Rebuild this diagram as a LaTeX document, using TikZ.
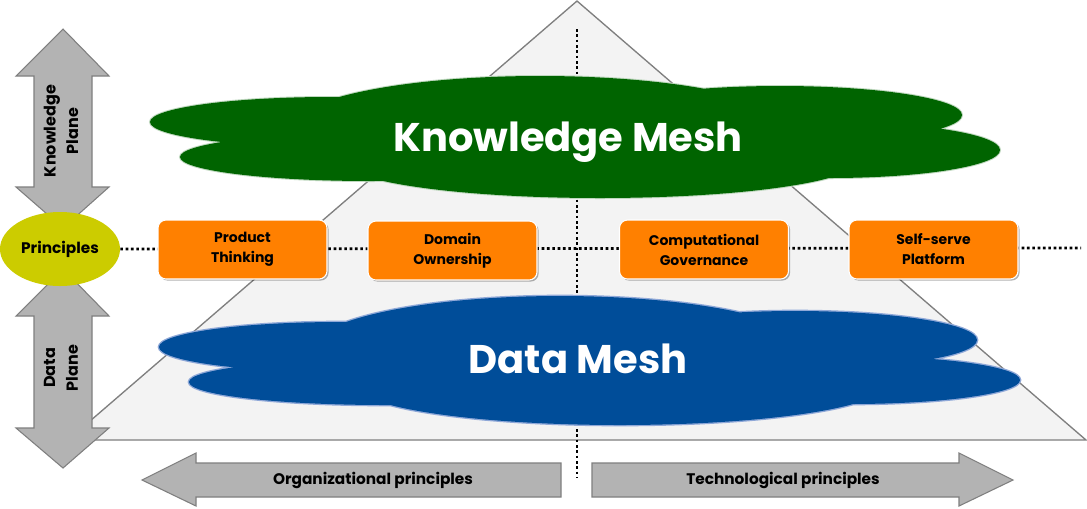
\documentclass[tikz,border=0pt]{standalone}
\usepackage{fontspec}
\setmainfont{Poppins}
\usetikzlibrary{shapes.geometric,shadows}
\definecolor{kgreen}{HTML}{006400}
\definecolor{dblue}{HTML}{004D99}
\definecolor{dblueedge}{HTML}{8FA8D8}
\definecolor{orng}{HTML}{FF8000}
\definecolor{yel}{HTML}{CCCC00}
\definecolor{arrgray}{HTML}{B3B3B3}
\definecolor{edgegray}{HTML}{7F7F7F}
\definecolor{trifill}{HTML}{F3F3F3}
\begin{document}
\begin{tikzpicture}[x=0.75pt,y=-0.75pt,
  tri/.style={fill=trifill,draw=edgegray,line width=1pt},
  dotline/.style={black,line width=2pt,dash pattern=on 2pt off 2pt},
  bigarrow/.style={fill=arrgray,draw=edgegray,line width=0.8pt},
  principle/.style={fill=orng,draw=white,line width=0.8pt,rounded corners=6pt,
    minimum width=126.75pt,minimum height=44.25pt,align=center,inner sep=0pt,
    font=\fontsize{10.5}{15}\selectfont\bfseries,
    drop shadow={shadow xshift=1.2pt,shadow yshift=-1.2pt,opacity=0.3,fill=black}},
  planetext/.style={rotate=90,align=center,font=\fontsize{12}{17}\selectfont\bfseries},
  axistext/.style={font=\fontsize{11.5}{14}\selectfont\bfseries},
  meshtext/.style={text=white,font=\fontsize{30}{34}\selectfont\bfseries,anchor=base},
  kedge/.style={draw=kgreen!25,line width=1.5pt},
  dedge/.style={draw=dblueedge,line width=2pt}
]
\useasboundingbox (0,0) rectangle (1087,508);
\fill[white] (0,0) rectangle (1087,508);

% pyramid
\draw[tri] (577,1) -- (1086,440) -- (68,440) -- cycle;

% vertical dotted axis
\coordinate (vtop) at (577,29);
\coordinate (vbot) at (577,478);
\draw[dotline] (vtop) -- (vbot);

% Knowledge Mesh cloud
\path[kedge] (330,122) ellipse [x radius=180,y radius=25]
  (370,157) ellipse [x radius=190,y radius=24]
  (540,128) ellipse [x radius=250,y radius=52]
  (600,160) ellipse [x radius=260,y radius=38]
  (780,115) ellipse [x radius=182,y radius=29]
  (830,150) ellipse [x radius=170,y radius=28];
\fill[kgreen] (330,122) ellipse [x radius=180,y radius=25]
  (370,157) ellipse [x radius=190,y radius=24]
  (540,128) ellipse [x radius=250,y radius=52]
  (600,160) ellipse [x radius=260,y radius=38]
  (780,115) ellipse [x radius=182,y radius=29]
  (830,150) ellipse [x radius=170,y radius=28];
\node[meshtext] (km) at (568,151) {Knowledge Mesh};

% Data Mesh cloud
\path[dedge] (340,347) ellipse [x radius=181,y radius=25]
  (385,382) ellipse [x radius=196,y radius=23]
  (560,350) ellipse [x radius=250,y radius=54]
  (620,385) ellipse [x radius=265,y radius=40]
  (795,340) ellipse [x radius=182,y radius=29]
  (850,380) ellipse [x radius=170,y radius=24];
\fill[dblue] (340,347) ellipse [x radius=181,y radius=25]
  (385,382) ellipse [x radius=196,y radius=23]
  (560,350) ellipse [x radius=250,y radius=54]
  (620,385) ellipse [x radius=265,y radius=40]
  (795,340) ellipse [x radius=182,y radius=29]
  (850,380) ellipse [x radius=170,y radius=24];
\node[meshtext] (dm) at (578,373) {Data Mesh};

% plane arrows
\draw[bigarrow] (63,29) -- (109,76) -- (92,76) -- (92,187) -- (109,187) -- (63,228)
  -- (16,187) -- (34,187) -- (34,76) -- (16,76) -- cycle;
\node[planetext] (kp) at (61,131) {Knowledge\\Plane};
\draw[bigarrow] (63,269) -- (109,316) -- (92,316) -- (92,428) -- (109,428) -- (63,468)
  -- (16,428) -- (34,428) -- (34,316) -- (16,316) -- cycle;
\node[planetext] (dp) at (61,368) {Data\\Plane};

% principles
\node[ellipse,fill=yel,minimum width=90pt,minimum height=55.5pt,inner sep=0pt,
  font=\fontsize{11.5}{14}\selectfont\bfseries] (pr) at (60,249) {Principles};
\coordinate (hend) at (1081,248);
\draw[dotline] (pr.east) -- (hend);

\node[principle] (pt) at (242.5,249.5) {Product\\Thinking};
\node[principle] (do) at (452.5,250.5) {Domain\\Ownership};
\node[principle] (cg) at (704,249.5) {Computational\\Governance};
\node[principle] (sp) at (933.5,249.5) {Self-serve\\Platform};

% bottom axis arrows
\draw[bigarrow] (142,480) -- (196,453) -- (196,463) -- (561,463) -- (561,497)
  -- (196,497) -- (196,506) -- cycle;
\node[axistext] (op) at (373,480) {Organizational principles};
\draw[bigarrow] (1013,480) -- (959,453) -- (959,463) -- (592,463) -- (592,497)
  -- (959,497) -- (959,506) -- cycle;
\node[axistext] (tp) at (783,480) {Technological principles};
\end{tikzpicture}
\end{document}
